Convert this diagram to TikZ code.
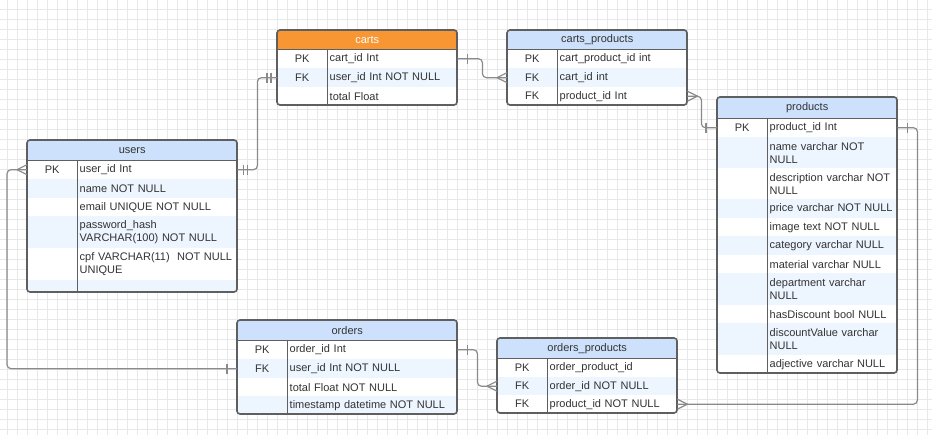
\documentclass[tikz,border=0pt]{standalone}
\usepackage{fontspec}
\setmainfont{Liberation Sans}
\usepackage{tikz}
\definecolor{hdrblue}{HTML}{CDE1FC}
\definecolor{hdrorange}{HTML}{F89633}
\definecolor{rowblue}{HTML}{EDF5FF}
\definecolor{erframe}{HTML}{5F5F5F}
\definecolor{linegray}{HTML}{8A8A8A}
\definecolor{gridgray}{HTML}{E8E8E8}
\definecolor{txtgray}{HTML}{333333}
\tikzset{
	hdr/.style={fill=hdrblue, text=txtgray, inner sep=0pt, anchor=north west},
	keycell/.style={text=txtgray, inner sep=0pt, anchor=north west},
	fldcell/.style={text=txtgray, inner xsep=2.5pt, inner ysep=0pt, align=left, anchor=north west},
	tabframe/.style={draw=erframe, line width=1.6pt, rounded corners=3pt},
	divline/.style={draw=erframe, line width=1.6pt},
	conn/.style={draw=linegray, line width=1.2pt},
	link/.style={conn, rounded corners=4pt},
	onebar/.pic={\draw[conn] (0,-5) -- (0,5);},
	crowfoot/.pic={\draw[conn] (10,-5) -- (0,0) -- (10,5);},
}

\begin{document}
\begin{tikzpicture}[x=1pt, y=-1pt, font=\fontsize{11}{13}\selectfont]
	\useasboundingbox (0,0) rectangle (932,435);
	\fill[white] (0,0) rectangle (932,435);

	% background grid
	\foreach \x in {7,17,...,927}
		\draw[gridgray, line width=0.6pt] (\x,0) -- (\x,435);
	\foreach \y in {9,19,...,429}
		\draw[gridgray, line width=0.6pt] (0,\y) -- (932,\y);

	% carts
	\begin{scope}
		\clip[rounded corners=3pt] (277,30) rectangle (457,105);
		\node[hdr, fill=hdrorange, text=white, minimum width=180pt, minimum height=19pt] (carts) at (277,30) {carts};
		\foreach \rn/\rk/\rt/\ry/\rh/\rc in {1/PK/{cart\_id Int}/49/19/white, 2/FK/{user\_id Int NOT NULL}/68/19/rowblue, 3//{total Float}/87/18/white}{
			\node[keycell, fill=\rc, minimum width=50pt, minimum height=\rh pt] (carts-k\rn) at (277,\ry) {\rk};
			\node[fldcell, fill=\rc, text width=125pt, minimum height=\rh pt] (carts-f\rn) at (327,\ry) {\rt};
		}
	\end{scope}
	\draw[tabframe] (277,30) rectangle (457,105);
	\draw[divline] (carts.south west) -- (carts.south east) (carts-k1.north east) -- (carts-k3.south east);

	% carts_products
	\begin{scope}
		\clip[rounded corners=3pt] (507,30) rectangle (687,105);
		\node[hdr, minimum width=180pt, minimum height=19pt] (cp) at (507,30) {carts\_products};
		\foreach \rn/\rk/\rt/\ry/\rh/\rc in {1/PK/{cart\_product\_id int}/49/19/white, 2/FK/{cart\_id int}/68/19/rowblue, 3/FK/{product\_id Int}/87/18/white}{
			\node[keycell, fill=\rc, minimum width=50pt, minimum height=\rh pt] (cp-k\rn) at (507,\ry) {\rk};
			\node[fldcell, fill=\rc, text width=125pt, minimum height=\rh pt] (cp-f\rn) at (557,\ry) {\rt};
		}
	\end{scope}
	\draw[tabframe] (507,30) rectangle (687,105);
	\draw[divline] (cp.south west) -- (cp.south east) (cp-k1.north east) -- (cp-k3.south east);

	% users
	\begin{scope}
		\clip[rounded corners=3pt] (27,140) rectangle (237,292);
		\node[hdr, minimum width=210pt, minimum height=20pt] (users) at (27,140) {users};
		\foreach \rn/\rk/\rt/\ry/\rh/\rc in {1/PK/{user\_id Int}/160/19/white, 2//{name NOT NULL}/179/19/rowblue, 3//{email UNIQUE NOT NULL}/198/18/white, 4//{password\_hash\\VARCHAR(100) NOT NULL}/216/32/rowblue, 5//{cpf VARCHAR(11)\ \ NOT NULL\\UNIQUE}/248/32/white, 6//{}/280/12/rowblue}{
			\node[keycell, fill=\rc, minimum width=50pt, minimum height=\rh pt] (users-k\rn) at (27,\ry) {\rk};
			\node[fldcell, fill=\rc, text width=155pt, minimum height=\rh pt] (users-f\rn) at (77,\ry) {\rt};
		}
	\end{scope}
	\draw[tabframe] (27,140) rectangle (237,292);
	\draw[divline] (users.south west) -- (users.south east) (users-k1.north east) -- (users-k6.south east);

	% products
	\begin{scope}
		\clip[rounded corners=3pt] (717,97) rectangle (897,373);
		\node[hdr, minimum width=180pt, minimum height=21pt] (products) at (717,97) {products};
		\foreach \rn/\rk/\rt/\ry/\rh/\rc in {1/PK/{product\_id Int}/118/19/white, 2//{name varchar NOT\\NULL}/137/31/rowblue, 3//{description varchar NOT\\NULL}/168/31/white, 4//{price varchar NOT NULL}/199/19/rowblue, 5//{image text NOT NULL}/218/18/white, 6//{category varchar NULL}/236/19/rowblue, 7//{material varchar NULL}/255/18/white, 8//{department varchar\\NULL}/273/32/rowblue, 9//{hasDiscount bool NULL}/305/18/white, 10//{discountValue varchar\\NULL}/323/32/rowblue, 11//{adjective varchar NULL}/355/18/white}{
			\node[keycell, fill=\rc, minimum width=50pt, minimum height=\rh pt] (products-k\rn) at (717,\ry) {\rk};
			\node[fldcell, fill=\rc, text width=125pt, minimum height=\rh pt] (products-f\rn) at (767,\ry) {\rt};
		}
	\end{scope}
	\draw[tabframe] (717,97) rectangle (897,373);
	\draw[divline] (products.south west) -- (products.south east) (products-k1.north east) -- (products-k11.south east);

	% orders
	\begin{scope}
		\clip[rounded corners=3pt] (237,320) rectangle (457,414);
		\node[hdr, minimum width=220pt, minimum height=20pt] (orders) at (237,320) {orders};
		\foreach \rn/\rk/\rt/\ry/\rh/\rc in {1/PK/{order\_id Int}/340/19/white, 2/FK/{user\_id Int NOT NULL}/359/19/rowblue, 3//{total Float NOT NULL}/378/18/white, 4//{timestamp datetime NOT NULL}/396/18/rowblue}{
			\node[keycell, fill=\rc, minimum width=50pt, minimum height=\rh pt] (orders-k\rn) at (237,\ry) {\rk};
			\node[fldcell, fill=\rc, text width=165pt, minimum height=\rh pt] (orders-f\rn) at (287,\ry) {\rt};
		}
	\end{scope}
	\draw[tabframe] (237,320) rectangle (457,414);
	\draw[divline] (orders.south west) -- (orders.south east) (orders-k1.north east) -- (orders-k4.south east);

	% orders_products
	\begin{scope}
		\clip[rounded corners=3pt] (497,338) rectangle (677,413);
		\node[hdr, minimum width=180pt, minimum height=20pt] (op) at (497,338) {orders\_products};
		\foreach \rn/\rk/\rt/\ry/\rh/\rc in {1/PK/{order\_product\_id}/358/19/white, 2/FK/{order\_id NOT NULL}/377/18/rowblue, 3/FK/{product\_id NOT NULL}/395/18/white}{
			\node[keycell, fill=\rc, minimum width=50pt, minimum height=\rh pt] (op-k\rn) at (497,\ry) {\rk};
			\node[fldcell, fill=\rc, text width=125pt, minimum height=\rh pt] (op-f\rn) at (547,\ry) {\rt};
		}
	\end{scope}
	\draw[tabframe] (497,338) rectangle (677,413);
	\draw[divline] (op.south west) -- (op.south east) (op-k1.north east) -- (op-k3.south east);

	% relations
	\draw[link] (users-f1.east) -- ++(20,0) |- (carts-k2.west);
	\pic at ([xshift=6pt]users-f1.east) {onebar};
	\pic at ([xshift=10pt]users-f1.east) {onebar};
	\pic at ([xshift=-10pt]carts-k2.west) {onebar};
	\pic at ([xshift=-6pt]carts-k2.west) {onebar};

	\draw[link] (carts-f1.east) -- ++(25,0) |- (cp-k2.west);
	\pic at ([xshift=10pt]carts-f1.east) {onebar};
	\pic at ([xshift=-10pt]cp-k2.west) {crowfoot};

	\draw[link] (cp-f3.east) -- ++(14,0) |- (products-k1.west);
	\pic[xscale=-1] at ([xshift=10pt]cp-f3.east) {crowfoot};
	\pic at ([xshift=-11pt]products-k1.west) {onebar};

	\draw[link] (products-f1.east) -- ++(20,0) |- (op-f3.east);
	\pic at ([xshift=10pt]products-f1.east) {onebar};
	\pic[xscale=-1] at ([xshift=10pt]op-f3.east) {crowfoot};

	\draw[link] (orders-f1.east) -- ++(20,0) |- (op-k2.west);
	\pic at ([xshift=10pt]orders-f1.east) {onebar};
	\pic at ([xshift=-10pt]op-k2.west) {crowfoot};

	\draw[link] (users-k1.west) -- ++(-20,0) |- (orders-k2.west);
	\pic at ([xshift=-10pt]users-k1.west) {crowfoot};
	\pic at ([xshift=-10pt]orders-k2.west) {onebar};
\end{tikzpicture}
\end{document}
